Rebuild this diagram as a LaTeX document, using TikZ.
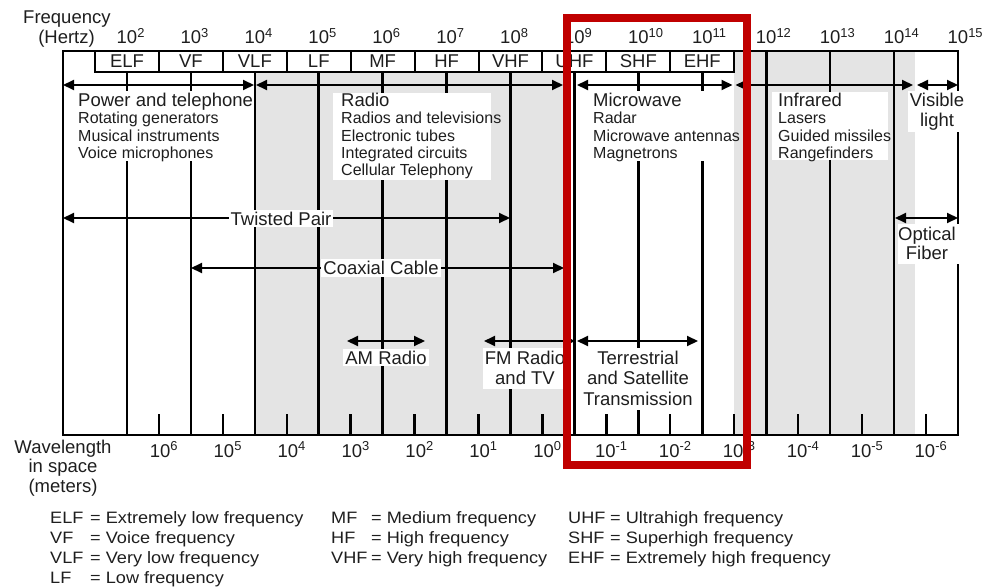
\documentclass[tikz,border=0pt]{standalone}
\usepackage{fontspec}
\setmainfont{Liberation Sans}
\newfontfamily\legendfont{Liberation Sans}[FakeStretch=1.1]
\usetikzlibrary{arrows.meta}
\definecolor{bandgrey}{RGB}{228,228,228}
\definecolor{ink}{RGB}{30,30,30}
\definecolor{hilite}{RGB}{192,0,0}
\tikzset{
  vline/.style={line width=2.6pt, draw=black},
  tickmark/.style={line width=2.4pt, draw=black},
  frameline/.style={line width=2.4pt, draw=black},
  boxline/.style={line width=2pt, draw=black},
  spanarrow/.style={line width=2pt, draw=black,
    {Triangle[length=11pt,width=10pt]}-{Triangle[length=11pt,width=10pt]}},
  lbl/.style={font=\fontsize{18.5}{19}\selectfont, text=ink, inner sep=0pt},
  headlbl/.style={font=\fontsize{18.5}{19}\selectfont, text=ink, inner sep=0pt, anchor=base west},
  sublbl/.style={font=\fontsize{16}{17}\selectfont, text=ink, inner sep=0pt, anchor=base west},
  tag/.style={font=\fontsize{18.5}{19}\selectfont, text=ink, fill=white, inner xsep=2pt, inner ysep=2pt, anchor=base},
  legend/.style={font=\legendfont\fontsize{16.5}{17}\selectfont, text=ink, inner sep=0pt, anchor=base west},
}
\begin{document}
\begin{tikzpicture}[x=1pt,y=-1pt]
\useasboundingbox (0,0) rectangle (984,586);

% shaded bands
\fill[bandgrey] (255,72) rectangle (566,435);
\fill[bandgrey] (734,51) rectangle (915,435);

% decade lines and half-decade ticks
\foreach \k in {0,...,13} \draw[vline] ({127+63.92*\k},51) -- ({127+63.92*\k},435);
\foreach \k in {1,...,13} \draw[tickmark] ({95+63.92*\k},414) -- ({95+63.92*\k},435);
\draw[frameline] (63,51) rectangle (958,435);

% band boxes
\draw[boxline, fill=white] (95,51) rectangle (734.2,72);
\foreach \k in {1,...,9} \draw[boxline] ({95+63.92*\k},51) -- ({95+63.92*\k},72);
\foreach \t [count=\k from 0] in {ELF,VF,VLF,LF,MF,HF,VHF,UHF,SHF,EHF}
  \node[lbl, anchor=base] (band\k) at ({127+63.92*\k},67.7) {\t};

% frequency labels
\foreach \k in {0,...,13} {
  \pgfmathtruncatemacro\n{\k+2}
  \node[lbl, anchor=base] (f\k) at ({127+63.92*\k},43.3) {10\rlap{\textsuperscript{\n}}};
}
% wavelength labels
\foreach \k in {1,...,13} {
  \pgfmathtruncatemacro\n{7-\k}
  \node[lbl, anchor=base] (w\k) at ({100+63.92*\k},457) {10\textsuperscript{\n}};
}

% axis titles
\node[lbl, anchor=base west] (freq) at (23,24) {Frequency};
\node[lbl, anchor=base east] (hertz) at (95,44) {(Hertz)};
\node[lbl, anchor=base] (wl1) at (63,453) {Wavelength};
\node[lbl, anchor=base] (wl2) at (63,472.5) {in space};
\node[lbl, anchor=base] (wl3) at (63,492) {(meters)};

% top range arrows
\coordinate (pw1) at (63,85);    \coordinate (pw2) at (254,85);
\coordinate (ra1) at (256,85);   \coordinate (ra2) at (563,85);
\coordinate (mw1) at (577,85);   \coordinate (mw2) at (732.5,85);
\coordinate (ir1) at (735.5,85); \coordinate (ir2) at (913,85);
\coordinate (vl1) at (917,85);   \coordinate (vl2) at (958,85);
\draw[spanarrow] (pw1) -- (pw2);
\draw[spanarrow] (ra1) -- (ra2);
\draw[spanarrow] (mw1) -- (mw2);
\draw[spanarrow] (ir1) -- (ir2);
\draw[spanarrow] (vl1) -- (vl2);

% media arrows
\coordinate (tp1) at (63,218);  \coordinate (tp2) at (510,218);
\coordinate (cx1) at (191,268); \coordinate (cx2) at (564,268);
\coordinate (of1) at (895,218); \coordinate (of2) at (958,218);
\coordinate (am1) at (347,341); \coordinate (am2) at (425,341);
\coordinate (fm1) at (484,341); \coordinate (fm2) at (575,341);
\coordinate (ts1) at (577,341); \coordinate (ts2) at (698,341);
\draw[spanarrow] (tp1) -- (tp2);
\draw[spanarrow] (cx1) -- (cx2);
\draw[spanarrow] (of1) -- (of2);
\draw[spanarrow] (am1) -- (am2);
\draw[spanarrow] (fm1) -- (fm2);
\draw[spanarrow] (ts1) -- (ts2);

% text blocks with white backgrounds
\fill[white] (66,91) rectangle (252,161);
\node[headlbl] (pt) at (78,106.7) {Power and telephone};
\node[sublbl] (pt1) at (78,123.5) {Rotating generators};
\node[sublbl] (pt2) at (78,141) {Musical instruments};
\node[sublbl] (pt3) at (78,158) {Voice microphones};

\fill[white] (333,93) rectangle (491,180);
\node[headlbl] (rd) at (341,106.7) {Radio};
\node[sublbl] (rd1) at (341,123.5) {Radios and televisions};
\node[sublbl] (rd2) at (341,141) {Electronic tubes};
\node[sublbl] (rd3) at (341,158) {Integrated circuits};
\node[sublbl] (rd4) at (341,175) {Cellular Telephony};

\fill[white] (583,91) rectangle (733,161);
\node[headlbl] (mw) at (593,106.7) {Microwave};
\node[sublbl] (mw1t) at (593,123.5) {Radar};
\node[sublbl] (mw2t) at (593,141) {Microwave antennas};
\node[sublbl] (mw3t) at (593,158) {Magnetrons};

\fill[white] (772,92) rectangle (888,160);
\node[headlbl] (ir) at (778,106.7) {Infrared};
\node[sublbl] (ir1t) at (778,123.5) {Lasers};
\node[sublbl] (ir2t) at (778,141) {Guided missiles};
\node[sublbl] (ir3t) at (778,158) {Rangefinders};

\fill[white] (908,91) rectangle (963,132);
\node[lbl, anchor=base] (vis1) at (937,106.7) {Visible};
\node[lbl, anchor=base] (vis2) at (937,126) {light};

% media labels
\node[tag] (tpl) at (281,225) {Twisted Pair};
\node[tag] (cxl) at (381,274.5) {Coaxial Cable};
\node[tag] (aml) at (386,364) {AM Radio};

\fill[white] (898,224) rectangle (962,264);
\node[lbl, anchor=base] (of1t) at (927,240.7) {Optical};
\node[lbl, anchor=base] (of2t) at (927,259) {Fiber};

\fill[white] (483,348) rectangle (568,389);
\node[lbl, anchor=base] (fm1t) at (525,364) {FM Radio};
\node[lbl, anchor=base] (fm2t) at (525,384) {and TV};

\fill[white] (580,348) rectangle (697,410);
\node[lbl, anchor=base] (ts1t) at (638,364) {Terrestrial};
\node[lbl, anchor=base] (ts2t) at (638,384.5) {and Satellite};
\node[lbl, anchor=base] (ts3t) at (638,405) {Transmission};

% highlight frame
\draw[hilite, line width=8pt] (566.5,18) rectangle (747,464.5);

% legend
\node[legend] (lg1a) at (50,523) {ELF};  \node[legend] (lg1b) at (90,523) {= Extremely low frequency};
\node[legend] (lg2a) at (50,543) {VF};   \node[legend] (lg2b) at (90,543) {= Voice frequency};
\node[legend] (lg3a) at (50,563) {VLF};  \node[legend] (lg3b) at (90,563) {= Very low frequency};
\node[legend] (lg4a) at (50,583) {LF};   \node[legend] (lg4b) at (90,583) {= Low frequency};
\node[legend] (lg5a) at (331,523) {MF};  \node[legend] (lg5b) at (371,523) {= Medium frequency};
\node[legend] (lg6a) at (331,543) {HF};  \node[legend] (lg6b) at (371,543) {= High frequency};
\node[legend] (lg7a) at (331,563) {VHF}; \node[legend] (lg7b) at (371,563) {= Very high frequency};
\node[legend] (lg8a) at (568,523) {UHF}; \node[legend] (lg8b) at (610,523) {= Ultrahigh frequency};
\node[legend] (lg9a) at (568,543) {SHF}; \node[legend] (lg9b) at (610,543) {= Superhigh frequency};
\node[legend] (lg10a) at (568,563) {EHF}; \node[legend] (lg10b) at (610,563) {= Extremely high frequency};
\end{tikzpicture}
\end{document}
